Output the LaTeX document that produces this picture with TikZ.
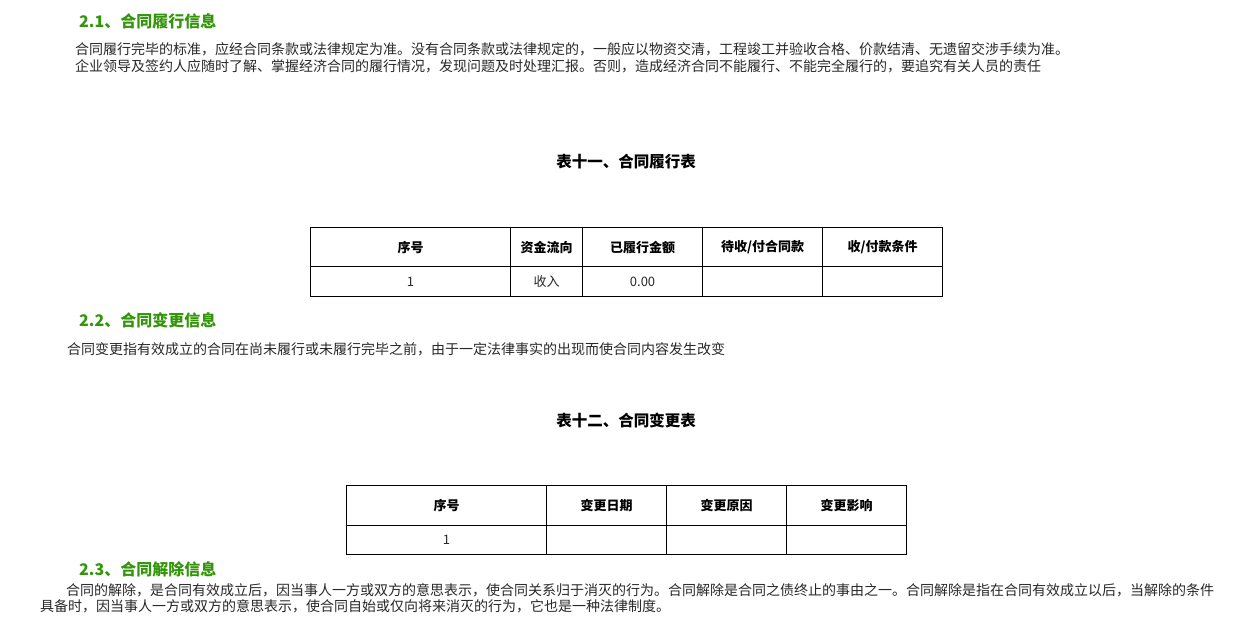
\documentclass[tikz,border=0pt]{standalone}
\usepackage{fontspec}
\setmainfont{Noto Sans CJK SC}
\XeTeXlinebreaklocale "zh"
\XeTeXlinebreakskip=0pt plus 3pt
\usetikzlibrary{positioning}
\definecolor{headgreen}{RGB}{51,150,10}
\definecolor{bodytext}{RGB}{40,40,40}
\tikzset{
  head/.style={anchor=west,inner sep=0,text=headgreen,font=\fontsize{16}{16}\selectfont\bfseries},
  body/.style={anchor=west,inner sep=0,text=bodytext,font=\fontsize{14}{14}\selectfont},
  tabtitle/.style={inner sep=0,text=black,font=\fontsize{15.5}{16}\selectfont\bfseries},
  cell/.style={draw,line width=1.1pt,anchor=north west,inner sep=0,minimum height=#1},
  th/.style={font=\fontsize{13}{13}\selectfont\bfseries},
  td/.style={font=\fontsize{13}{13}\selectfont,text=bodytext},
}

\begin{document}
\begin{tikzpicture}[x=1pt,y=-1pt]
\useasboundingbox[fill=white] (0,0) rectangle (1253,637);

% 2.1
\node[head] (sec1) at (79,21) {2.1、合同履行信息};
\node[body] (p1a) at (75,49) {合同履行完毕的标准，应经合同条款或法律规定为准。没有合同条款或法律规定的，一般应以物资交清，工程竣工并验收合格、价款结清、无遗留交涉手续为准。};
\node[body] (p1b) at (75,66) {企业领导及签约人应随时了解、掌握经济合同的履行情况，发现问题及时处理汇报。否则，造成经济合同不能履行、不能完全履行的，要追究有关人员的责任};

\node[tabtitle] (t11) at (626,162) {表十一、合同履行表};
\node[cell=39pt,minimum width=200pt,th] (a1) at (310,227) {序号};
\node[cell=39pt,minimum width=72pt,th] (a2) at (510,227) {资金流向};
\node[cell=39pt,minimum width=120pt,th] (a3) at (582,227) {已履行金额};
\node[cell=39pt,minimum width=120pt,th] (a4) at (702,227) {待收/付合同款};
\node[cell=39pt,minimum width=120pt,th] (a5) at (822,227) {收/付款条件};
\node[cell=30pt,minimum width=200pt,td] (b1) at (310,266) {1};
\node[cell=30pt,minimum width=72pt,td] (b2) at (510,266) {收入};
\node[cell=30pt,minimum width=120pt,td] (b3) at (582,266) {0.00};
\node[cell=30pt,minimum width=120pt,td] (b4) at (702,266) {};
\node[cell=30pt,minimum width=120pt,td] (b5) at (822,266) {};

% 2.2
\node[head] (sec2) at (79,320) {2.2、合同变更信息};
\node[body] (p2) at (67,349) {合同变更指有效成立的合同在尚未履行或未履行完毕之前，由于一定法律事实的出现而使合同内容发生改变};

\node[tabtitle] (t12) at (626,421) {表十二、合同变更表};
\node[cell=40pt,minimum width=200pt,th] (c1) at (346,485) {序号};
\node[cell=40pt,minimum width=120pt,th] (c2) at (546,485) {变更日期};
\node[cell=40pt,minimum width=120pt,th] (c3) at (666,485) {变更原因};
\node[cell=40pt,minimum width=120pt,th] (c4) at (786,485) {变更影响};
\node[cell=29pt,minimum width=200pt,td] (d1) at (346,525) {1};
\node[cell=29pt,minimum width=120pt,td] (d2) at (546,525) {};
\node[cell=29pt,minimum width=120pt,td] (d3) at (666,525) {};
\node[cell=29pt,minimum width=120pt,td] (d4) at (786,525) {};

% 2.3
\node[head] (sec3) at (79,569) {2.3、合同解除信息};
\node[body] (p3a) at (66,590) {\hbox to 1148pt{合同的解除，是合同有效成立后，因当事人一方或双方的意思表示，使合同关系归于消灭的行为。合同解除是合同之债终止的事由之一。合同解除是指在合同有效成立以后，当解除的条件}};
\node[body] (p3b) at (40,606) {具备时，因当事人一方或双方的意思表示，使合同自始或仅向将来消灭的行为，它也是一种法律制度。};
\end{tikzpicture}
\end{document}
